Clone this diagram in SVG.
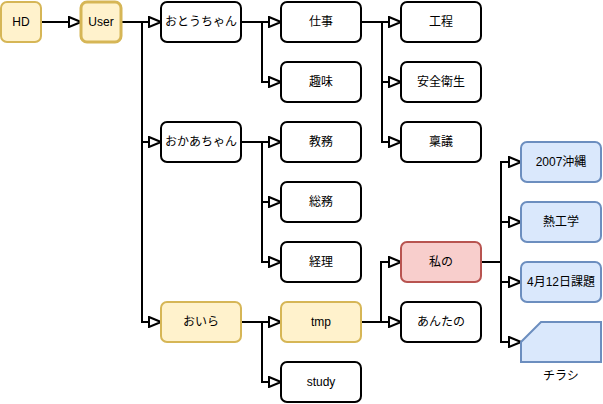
<svg xmlns="http://www.w3.org/2000/svg" width="603" height="404" viewBox="0 0 603 404">
<style>
.n rect,.n path{stroke-width:2}
.w rect{fill:#fff;stroke:#000}
.y rect{fill:#fff2cc;stroke:#d6b656}
.r rect{fill:#f8cecc;stroke:#b85450}
.b rect,.b path{fill:#dae8fc;stroke:#6c8ebf}
text{font-family:"Liberation Sans","Noto Sans CJK JP",sans-serif;font-size:12px;fill:#000;text-anchor:middle;dominant-baseline:central}
.e path{fill:none;stroke:#000;stroke-width:2;marker-end:url(#a)}
</style>
<defs>
<marker id="a" viewBox="-1 -1 14 12" refX="11" refY="5" markerWidth="14" markerHeight="12" markerUnits="userSpaceOnUse" orient="auto">
<path d="M0,0 L12,5 L0,10 Z" fill="#fff" stroke="#000" stroke-width="2"/>
</marker>
</defs>
<g class="e" id="connectors">
<path d="M41,22 H80"/>
<path d="M121,22 H160"/>
<path d="M121,22 H142 V142 H160"/>
<path d="M121,22 H142 V322 H160"/>
<path d="M241,22 H280"/>
<path d="M241,22 H262 V82 H280"/>
<path d="M361,22 H400"/>
<path d="M361,22 H382 V82 H400"/>
<path d="M361,22 H382 V142 H400"/>
<path d="M241,142 H280"/>
<path d="M241,142 H262 V202 H280"/>
<path d="M241,142 H262 V262 H280"/>
<path d="M241,322 H280"/>
<path d="M241,322 H262 V382 H280"/>
<path d="M361,322 H381 V262 H400"/>
<path d="M361,322 H400"/>
<path d="M481,262 H501 V162 H520"/>
<path d="M481,262 H501 V222 H520"/>
<path d="M481,262 H501 V282 H520"/>
<path d="M481,262 H501 V342 H520"/>
</g>
<g id="HD" class="n y"><rect x="1" y="2" width="40" height="40" rx="6"/><text x="21" y="22">HD</text></g>
<g id="User" class="n y"><rect x="81" y="2" width="40" height="40" rx="6" style="stroke-width:3"/><text x="101" y="22">User</text></g>
<g id="otouchan" class="n w"><rect x="161" y="2" width="80" height="40" rx="6"/><text x="201" y="22">おとうちゃん</text></g>
<g id="okaachan" class="n w"><rect x="161" y="122" width="80" height="40" rx="6"/><text x="201" y="142">おかあちゃん</text></g>
<g id="oira" class="n y"><rect x="161" y="302" width="80" height="40" rx="6"/><text x="201" y="322">おいら</text></g>
<g id="shigoto" class="n w"><rect x="281" y="2" width="80" height="40" rx="6"/><text x="321" y="22">仕事</text></g>
<g id="shumi" class="n w"><rect x="281" y="62" width="80" height="40" rx="6"/><text x="321" y="82">趣味</text></g>
<g id="kyomu" class="n w"><rect x="281" y="122" width="80" height="40" rx="6"/><text x="321" y="142">教務</text></g>
<g id="somu" class="n w"><rect x="281" y="182" width="80" height="40" rx="6"/><text x="321" y="202">総務</text></g>
<g id="keiri" class="n w"><rect x="281" y="242" width="80" height="40" rx="6"/><text x="321" y="262">経理</text></g>
<g id="tmp" class="n y"><rect x="281" y="302" width="80" height="40" rx="6"/><text x="321" y="322">tmp</text></g>
<g id="study" class="n w"><rect x="281" y="362" width="80" height="40" rx="6"/><text x="321" y="382">study</text></g>
<g id="kotei" class="n w"><rect x="401" y="2" width="80" height="40" rx="6"/><text x="441" y="22">工程</text></g>
<g id="anzen" class="n w"><rect x="401" y="62" width="80" height="40" rx="6"/><text x="441" y="82">安全衛生</text></g>
<g id="ringi" class="n w"><rect x="401" y="122" width="80" height="40" rx="6"/><text x="441" y="142">稟議</text></g>
<g id="watashino" class="n r"><rect x="401" y="242" width="80" height="40" rx="6"/><text x="441" y="262">私の</text></g>
<g id="anatano" class="n w"><rect x="401" y="302" width="80" height="40" rx="6"/><text x="441" y="322">あんたの</text></g>
<g id="okinawa" class="n b"><rect x="521" y="142" width="80" height="40" rx="6"/><text x="561" y="162">2007沖縄</text></g>
<g id="netsu" class="n b"><rect x="521" y="202" width="80" height="40" rx="6"/><text x="561" y="222">熱工学</text></g>
<g id="kadai" class="n b"><rect x="521" y="262" width="80" height="40" rx="6"/><text x="561" y="282">4月12日課題</text></g>
<g id="chirashi" class="n b"><path d="M541,322 H601 V362 H521 V342 Z"/><text x="561" y="376">チラシ</text></g>
</svg>
